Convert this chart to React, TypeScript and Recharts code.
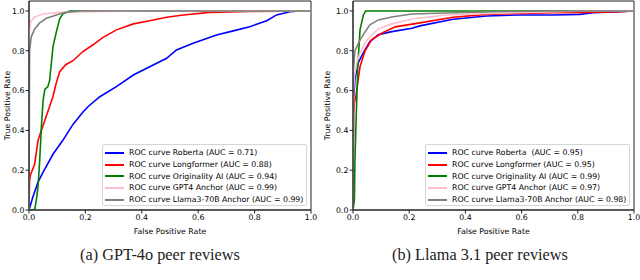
import { LineChart, Line, XAxis, YAxis, ReferenceArea } from "recharts";

// ROC points [fpr, tpr]
const gptRoberta = [[0, 0], [0.014, 0.067], [0.032, 0.14], [0.05, 0.19], [0.085, 0.28], [0.12, 0.35], [0.156, 0.43], [0.19, 0.49], [0.21, 0.52], [0.251, 0.569], [0.31, 0.62], [0.37, 0.678], [0.428, 0.72], [0.488, 0.762], [0.523, 0.804], [0.582, 0.838], [0.665, 0.879], [0.724, 0.9], [0.783, 0.921], [0.843, 0.951], [0.878, 0.98], [0.925, 0.996], [0.96, 1], [1, 1]];
const gptLongformer = [[0, 0], [0.002, 0.15], [0.006, 0.18], [0.02, 0.23], [0.032, 0.35], [0.044, 0.4], [0.056, 0.45], [0.073, 0.52], [0.085, 0.57], [0.097, 0.64], [0.109, 0.695], [0.13, 0.73], [0.156, 0.75], [0.19, 0.795], [0.227, 0.83], [0.26, 0.865], [0.31, 0.905], [0.37, 0.935], [0.428, 0.951], [0.488, 0.968], [0.547, 0.98], [0.64, 0.993], [0.78, 0.997], [1, 1]];
const gptOriginality = [[0, 0], [0.02, 0], [0.026, 0.05], [0.032, 0.117], [0.038, 0.25], [0.044, 0.42], [0.05, 0.55], [0.056, 0.606], [0.067, 0.62], [0.073, 0.65], [0.085, 0.82], [0.097, 0.895], [0.109, 0.96], [0.12, 0.985], [0.144, 1], [1, 1]];
const gptGpt4Anchor = [[0, 0], [0.001, 0.89], [0.006, 0.946], [0.02, 0.97], [0.05, 0.985], [0.11, 0.993], [0.26, 0.998], [0.4, 1], [1, 1]];
const gptLlamaAnchor = [[0, 0], [0.002, 0.8], [0.008, 0.87], [0.02, 0.91], [0.038, 0.94], [0.062, 0.963], [0.097, 0.98], [0.13, 0.993], [0.18, 1], [1, 1]];

const llamaRoberta = [[0, 0], [0.002, 0.55], [0.007, 0.66], [0.019, 0.74], [0.037, 0.79], [0.06, 0.846], [0.09, 0.88], [0.138, 0.896], [0.21, 0.913], [0.238, 0.925], [0.356, 0.958], [0.476, 0.975], [0.594, 0.98], [0.712, 0.98], [0.807, 0.983], [0.854, 0.991], [0.95, 0.996], [1, 1]];
const llamaLongformer = [[0, 0], [0.002, 0.48], [0.005, 0.54], [0.009, 0.56], [0.013, 0.6], [0.025, 0.72], [0.043, 0.8], [0.066, 0.855], [0.102, 0.888], [0.15, 0.92], [0.238, 0.94], [0.356, 0.968], [0.476, 0.983], [0.594, 0.988], [0.712, 0.991], [0.83, 0.993], [0.95, 0.996], [1, 1]];
const llamaOriginality = [[0, 0], [0.005, 0.05], [0.007, 0.25], [0.011, 0.45], [0.017, 0.72], [0.025, 0.905], [0.037, 0.98], [0.045, 1], [1, 1]];
const llamaGpt4Anchor = [[0, 0], [0.002, 0.6], [0.005, 0.67], [0.013, 0.74], [0.025, 0.79], [0.043, 0.84], [0.06, 0.87], [0.09, 0.91], [0.138, 0.935], [0.21, 0.96], [0.33, 0.98], [0.55, 0.99], [0.85, 1], [1, 1]];
const llamaLlamaAnchor = [[0, 0], [0.001, 0.7], [0.007, 0.8], [0.025, 0.855], [0.043, 0.895], [0.06, 0.93], [0.09, 0.955], [0.138, 0.97], [0.21, 0.985], [0.33, 0.99], [0.55, 0.997], [0.7, 1], [1, 1]];

const gptLabels = [
  "ROC curve Roberta (AUC = 0.71)",
  "ROC curve Longformer (AUC = 0.88)",
  "ROC curve Originality AI (AUC = 0.94)",
  "ROC curve GPT4 Anchor (AUC = 0.99)",
  "ROC curve Llama3-70B Anchor (AUC = 0.99)",
];
const llamaLabels = [
  "ROC curve Roberta  (AUC = 0.95)",
  "ROC curve Longformer (AUC = 0.95)",
  "ROC curve Originality AI (AUC = 0.99)",
  "ROC curve GPT4 Anchor (AUC = 0.97)",
  "ROC curve Llama3-70B Anchor (AUC = 0.98)",
];

const COLORS = ["#0000ff", "#ff0000", "#008000", "#ffc0cb", "#808080"];
const TICKS = [0, 0.2, 0.4, 0.6, 0.8, 1.0];
const FONT = "DejaVu Sans";
const FS = 7.8;

const toPoints = (pairs: number[][]) => pairs.map(([x, y]) => ({ x, y }));

// matplotlib-style legend box, placed over the lower right of the plot
function LegendBox({ labels, left }: { labels: string[]; left: number }) {
  return (
    <div
      style={{
        position: "absolute",
        left,
        top: 144,
        width: 205,
        height: 62,
        boxSizing: "border-box",
        border: "1px solid #d5d5d5",
        borderRadius: 2,
        background: "rgba(255,255,255,0.8)",
        padding: "2px 0 0 2px",
        fontFamily: FONT,
        fontSize: FS,
        color: "#000",
      }}
    >
      {labels.map((label, i) => (
        <div key={i} style={{ display: "flex", alignItems: "center", height: 11.7, whiteSpace: "pre" }}>
          <span style={{ display: "inline-block", width: 19, height: 2, background: COLORS[i], marginRight: 5 }} />
          {label}
        </div>
      ))}
    </div>
  );
}

function YLabel(props: any) {
  const { viewBox } = props;
  const cy = viewBox.y + viewBox.height / 2;
  return (
    <text x={7} y={cy} transform={`rotate(-90, 7, ${cy})`} textAnchor="middle" dominantBaseline="central"
      fontFamily={FONT} fontSize={FS} fill="#000">
      True Positive Rate
    </text>
  );
}

function RocPanel({ curves, yAxisWidth, rightMargin }: {
  curves: number[][][]; yAxisWidth: number; rightMargin: number;
}) {
  const tick = { fontSize: FS, fontFamily: FONT, fill: "#000" };
  return (
    <LineChart width={320} height={240} margin={{ top: 1, right: rightMargin, left: 0, bottom: 0 }}>
      <XAxis
        type="number"
        dataKey="x"
        domain={[0, 1]}
        ticks={TICKS}
        tickFormatter={(v: number) => v.toFixed(1)}
        tick={tick}
        tickSize={3.5}
        tickMargin={1}
        height={30}
        stroke="#222"
        allowDataOverflow
        label={{ value: "False Positive Rate", position: "insideBottom", offset: 6, fontSize: FS, fontFamily: FONT, fill: "#000" }}
      />
      <YAxis
        type="number"
        dataKey="y"
        domain={[0, 1.05]}
        ticks={TICKS}
        tickFormatter={(v: number) => v.toFixed(1)}
        tick={tick}
        tickSize={3.5}
        tickMargin={1}
        width={yAxisWidth}
        stroke="#222"
        allowDataOverflow
        label={<YLabel />}
      />
      <ReferenceArea x1={0} x2={1} y1={0} y2={1.05} fill="none" stroke="#222" strokeWidth={1} />
      {curves.map((c, i) => (
        <Line
          key={i}
          data={toPoints(c)}
          dataKey="y"
          type="linear"
          stroke={COLORS[i]}
          strokeWidth={1.6}
          dot={false}
          isAnimationActive={false}
        />
      ))}
    </LineChart>
  );
}

const captionStyle: React.CSSProperties = {
  position: "absolute",
  top: 245,
  width: 320,
  textAlign: "center",
  fontFamily: "Liberation Serif",
  fontSize: 16.3,
  color: "#222",
};

export default function App() {
  return (
    <div style={{ position: "absolute", left: 0, top: 0, width: 640, height: 280, background: "#fff" }}>
      <div style={{ position: "absolute", left: 0, top: 0 }}>
        <RocPanel
          curves={[gptRoberta, gptLongformer, gptOriginality, gptGpt4Anchor, gptLlamaAnchor]}
          yAxisWidth={29}
          rightMargin={9}
        />
      </div>
      <div style={{ position: "absolute", left: 320, top: 0 }}>
        <RocPanel
          curves={[llamaRoberta, llamaLongformer, llamaOriginality, llamaGpt4Anchor, llamaLlamaAnchor]}
          yAxisWidth={33}
          rightMargin={6}
        />
      </div>
      <LegendBox labels={gptLabels} left={102} />
      <LegendBox labels={llamaLabels} left={425} />
      <div style={{ ...captionStyle, left: 0 }}>(a) GPT-4o peer reviews</div>
      <div style={{ ...captionStyle, left: 320 }}>(b) Llama 3.1 peer reviews</div>
    </div>
  );
}
